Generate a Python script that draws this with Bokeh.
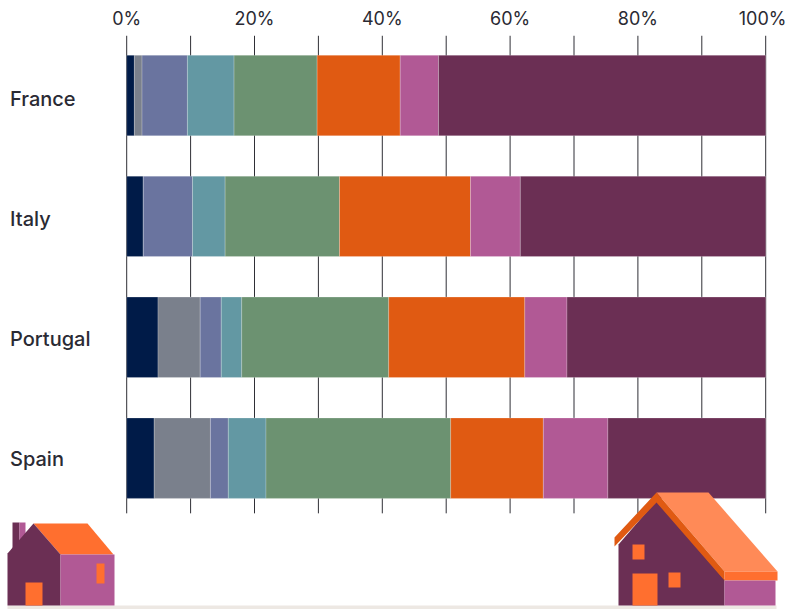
from bokeh.embed import file_html
from bokeh.resources import INLINE
from bokeh.core.properties import value
from bokeh.models import ColumnDataSource, FixedTicker, Range1d
from bokeh.plotting import figure

countries = ["France", "Italy", "Portugal", "Spain"]
band_colors = ["#001b48", "#7a808c", "#6a749f", "#6398a3",
               "#6c9271", "#e05a12", "#b15995", "#6b2f54"]
france = [1.2, 1.2, 7.1, 7.3, 13.0, 13.0, 6.0, 51.2]
italy = [2.6, 0.0, 7.7, 5.1, 17.9, 20.5, 7.8, 38.4]
portugal = [4.9, 6.6, 3.3, 3.2, 23.0, 21.3, 6.6, 31.1]
spain = [4.3, 8.8, 2.8, 5.9, 28.9, 14.5, 10.1, 24.7]
shares = [france, italy, portugal, spain]
grid_ticks = [0, 10, 20, 30, 40, 50, 60, 70, 80, 90, 100]
label_ticks = [0, 20, 40, 60, 80, 100]

FONT = "Inter"
INK = "#2a2a33"
W, H, TOP = 786, 609, 35
PX_PER_PCT = 6.39
ZERO_PX = 126.2
ROW_PX = 120.9
FIRST_ROW_PX = 95.0

p = figure(
    width=W, height=H, output_backend="svg", toolbar_location=None,
    x_range=Range1d(-ZERO_PX / PX_PER_PCT, (W - ZERO_PX) / PX_PER_PCT),
    y_range=Range1d((H - FIRST_ROW_PX) / ROW_PX, (TOP - FIRST_ROW_PX) / ROW_PX),
    x_axis_location="above", min_border=0,
    min_border_left=0, min_border_right=0, min_border_bottom=0, min_border_top=TOP,
)
p.extra_x_ranges["px"] = Range1d(0, W)
p.extra_y_ranges["px"] = Range1d(H, TOP)
p.outline_line_color = None
p.background_fill_color = "white"
p.border_fill_color = "white"
p.grid.visible = False
p.yaxis.visible = False

ax = p.xaxis[0]
ax.ticker = FixedTicker(ticks=label_ticks)
ax.major_label_overrides = {t: f"{t}%" for t in label_ticks}
ax.axis_line_color = None
ax.major_tick_line_color = None
ax.minor_tick_line_color = None
ax.major_tick_in = 0
ax.major_tick_out = 0
ax.minor_tick_in = 0
ax.minor_tick_out = 0
ax.major_label_text_font = FONT
ax.major_label_text_font_size = "18px"
ax.major_label_text_color = INK
ax.major_label_standoff = 7

# Vertical rules behind the bars
rows = list(range(len(countries)))
p.segment(x0=grid_ticks, x1=grid_ticks,
          y0=[-0.496] * len(grid_ticks), y1=[3.456] * len(grid_ticks),
          line_color="#2f2f36", line_width=1)

# Stacked bars, one band at a time
for band, color in enumerate(band_colors):
    left, right = [], []
    for row in shares:
        start = sum(row[:band])
        left.append(start)
        right.append(start + row[band])
    src = ColumnDataSource(dict(y=rows, left=left, right=right))
    p.hbar(y="y", left="left", right="right", height=0.665, source=src,
           fill_color=color, line_color="white", line_alpha=0.35, line_width=0.6)

# Country names sit on an even 120 px pitch
p.text(x=[9.5] * 4, y=[98.3, 218.3, 338.3, 458.3], text=countries,
       x_range_name="px", y_range_name="px",
       text_font=value("Inter Medium"), text_font_size="20px",
       text_color=INK, text_baseline="middle", text_align="left")


def shape(xs, ys, color):
    p.patch(xs, ys, fill_color=color, line_color=None,
            x_range_name="px", y_range_name="px")


# Ground strip
shape([7, 776, 776, 7], [605, 605, 609, 609], "#ede8e3")

# Small house
shape([12, 19, 19, 12], [522, 522, 548, 548], "#6b2f54")
shape([19, 25, 25, 19], [522, 522, 540, 540], "#b15995")
shape([33, 87, 113, 60], [523, 523, 554, 554], "#ff6f2f")
shape([7, 7, 33, 60, 60, 7], [605, 553, 523, 554, 605, 605], "#6b2f54")
shape([60, 114, 114, 60], [554, 554, 605, 605], "#b15995")
shape([96, 104, 104, 96], [563, 563, 583, 583], "#ff6f2f")
shape([25, 42, 42, 25], [582, 582, 605, 605], "#ff6f2f")

# Large house
shape([656, 708, 777, 724], [492, 492, 571, 571], "#ff8a57")
shape([618, 618, 656, 724, 724], [605, 544, 500, 579, 605], "#6b2f54")
shape([614, 656, 724, 724, 656, 614], [537, 492, 571, 580, 502, 546], "#e05a12")
shape([724, 777, 777, 724], [571, 571, 580, 580], "#ff6f2f")
shape([724, 775, 775, 724], [580, 580, 605, 605], "#b15995")
shape([632, 644, 644, 632], [544, 544, 559, 559], "#ff6f2f")
shape([668, 680, 680, 668], [572, 572, 587, 587], "#ff6f2f")
shape([632, 657, 657, 632], [573, 573, 605, 605], "#ff6f2f")

open("out.html", "w").write(file_html(p, INLINE))
